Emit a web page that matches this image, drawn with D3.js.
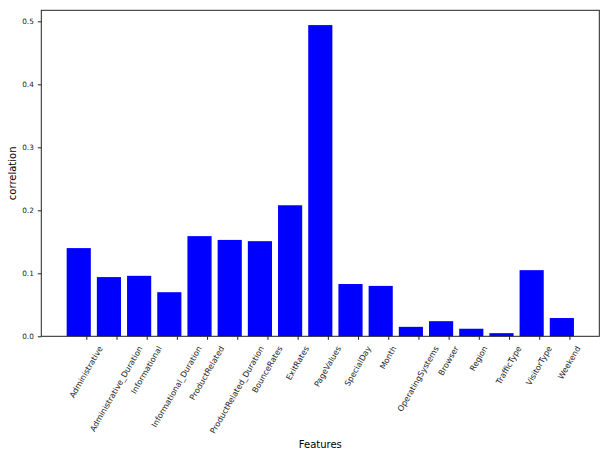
<!DOCTYPE html>
<html><head><meta charset="utf-8">
<script src="https://cdn.jsdelivr.net/npm/d3@7"></script>
<style>body{margin:0;background:#fff}svg{display:block}text{font-family:"DejaVu Sans",sans-serif}</style>
</head><body>
<svg id="chart" width="609" height="456"></svg>
<script>
const categories = ["Administrative","Administrative_Duration","Informational","Informational_Duration","ProductRelated","ProductRelated_Duration","BounceRates","ExitRates","PageValues","SpecialDay","Month","OperatingSystems","Browser","Region","TrafficType","VisitorType","Weekend"];
const values = [0.140,0.094,0.096,0.070,0.159,0.153,0.151,0.208,0.494,0.083,0.080,0.015,0.024,0.012,0.005,0.105,0.029];
const yTicks = [0.0,0.1,0.2,0.3,0.4,0.5];
const xLabel = "Features", yLabel = "correlation";

const svg = d3.select("#chart");
const L = 41.3, R = 599.3, T = 10.3, B = 336.3;
const n = categories.length;
const x = d3.scaleLinear().domain([-1.24, n - 1 + 1.24]).range([L, R]);
const y = d3.scaleLinear().domain([0, 0.5175]).range([B, T]);
const bw = 0.8;

svg.append("g").selectAll("rect").data(values).join("rect")
  .attr("x", (d,i) => x(i - bw/2)).attr("width", (d,i) => x(i + bw/2) - x(i - bw/2))
  .attr("y", d => y(d)).attr("height", d => B - y(d)).attr("fill", "#0000ff");

// frame
svg.append("rect").attr("x", L).attr("y", T).attr("width", R-L).attr("height", B-T)
  .attr("fill","none").attr("stroke","#222").attr("stroke-width",1);

// y axis
const ya = d3.axisLeft(y).tickValues(yTicks).tickFormat(d3.format(".1f")).tickSize(3.5).tickPadding(4);
const gy = svg.append("g").attr("transform", `translate(${L},0)`).call(ya);
gy.select(".domain").remove();
gy.selectAll("line").attr("stroke","#222");
gy.selectAll("text").attr("font-size","7.3px").attr("fill","#222").attr("font-family","DejaVu Sans");

// x axis: ticks offset by 0.25
const tickPos = categories.map((c,i) => i + 0.25);
const xa = d3.axisBottom(x).tickValues(tickPos).tickFormat(() => "").tickSize(3.5);
const gx = svg.append("g").attr("transform", `translate(0,${B})`).call(xa);
gx.select(".domain").remove();
gx.selectAll("line").attr("stroke","#222");

const lg = svg.append("g");
const ang = 60 * Math.PI / 180;
categories.forEach((c,i) => {
  const t = lg.append("text").text(c).attr("font-size","8px").attr("fill","#222")
    .attr("text-anchor","middle").attr("dominant-baseline","central");
  const w = t.node().getComputedTextLength();
  const h = 7.6;
  const bh = w * Math.sin(ang) + h * Math.cos(ang);
  const cx = x(i + 0.25), cy = B + 8.7 + bh/2;
  t.attr("transform", `translate(${cx},${cy}) rotate(-60)`);
});

svg.append("text").text(xLabel).attr("x", (L+R)/2).attr("y", 447.5)
  .attr("text-anchor","middle").attr("font-size","10px").attr("fill","#000");
svg.append("text").text(yLabel).attr("transform", `translate(15.5,${(T+B)/2}) rotate(-90)`)
  .attr("text-anchor","middle").attr("font-size","10px").attr("fill","#000");
</script>
</body></html>
